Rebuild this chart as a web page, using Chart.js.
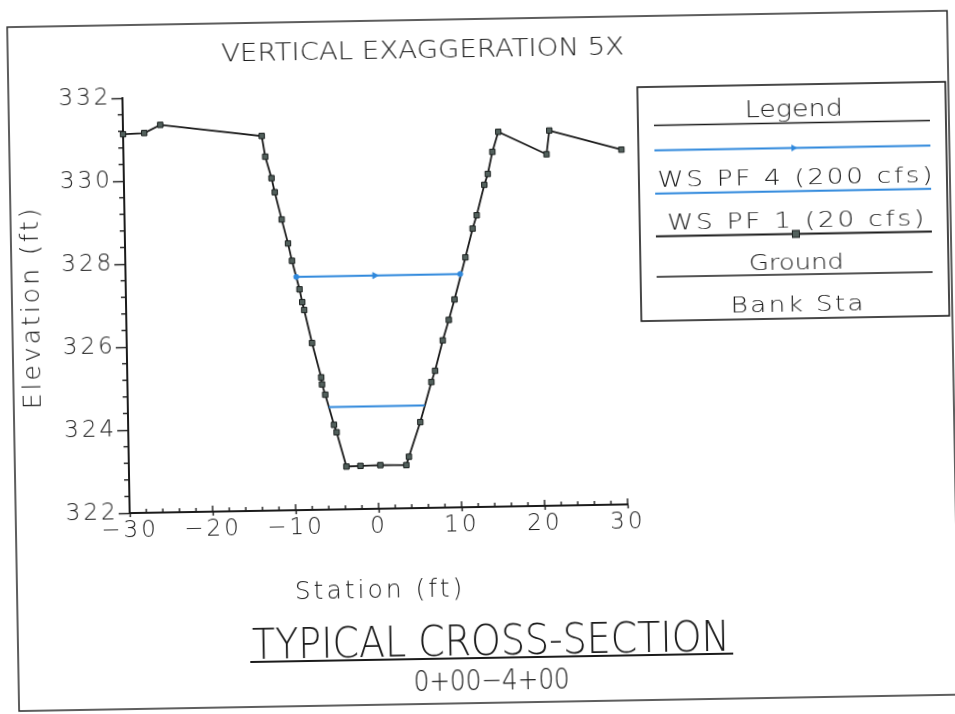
<!DOCTYPE html>
<html>
<head>
<meta charset="utf-8">
<script src="https://cdn.jsdelivr.net/npm/chart.js@4.4.1/dist/chart.umd.min.js"></script>
<style>
  html, body { margin: 0; padding: 0; background: #fff; overflow: hidden; }
  #sheet {
    position: absolute; left: 0; top: 0; width: 955px; height: 714px;
    transform: rotate(-1deg); transform-origin: 477.5px 357px;
  }
  canvas { display: block; }
</style>
</head>
<body>
<div id="sheet"><canvas id="xs" width="955" height="714"></canvas></div>
<script>
// Surveyed ground points across the channel (station ft, elevation ft)
const groundStation = [-30, -27.45, -25.5, -13.3, -12.92, -12.21, -11.85, -11.07, -10.36, -9.92,
  -9.07, -8.77, -8.55, -7.67, -6.64, -6.56, -6.19, -5.2, -4.9, -3.79,
  -2.1, 0.3, 3.43, 3.76, 5.2, 6.62, 7.09, 8.08, 8.85, 9.58,
  10.98, 11.91, 12.43, 13.41, 13.85, 14.45, 15.2, 20.97, 21.35, 30];
const groundElev = [331.13, 331.15, 331.34, 331.03, 330.53, 330.01, 329.67, 329.01, 328.43, 328.01,
  327.32, 327.01, 326.82, 326.02, 325.19, 325.02, 324.77, 324.04, 323.86, 323.03,
  323.04, 323.05, 323.04, 323.24, 324.07, 325.03, 325.30, 326.03, 326.52, 327.01,
  328.02, 328.71, 329.03, 329.76, 330.02, 330.55, 331.03, 330.47, 331.04, 330.55];

// Water surface, profile 4 (200 cfs)
const ws4Station = [-9.43, 0, 10.32];
const ws4Elev = [327.62, 327.62, 327.62];

// Water surface, profile 1 (20 cfs)
const ws1Station = [-5.8, 5.77];
const ws1Elev = [324.47, 324.47];

// Axis ticks
const stationTicks = [-30, -20, -10, 0, 10, 20, 30];
const elevTicks = [322, 324, 326, 328, 330, 332];

const seriesNames = ['WS PF 4 (200 cfs)', 'WS PF 1 (20 cfs)', 'Ground', 'Bank Sta'];
const headline = 'VERTICAL EXAGGERATION 5X';
const sheetTitle = 'TYPICAL CROSS-SECTION';
const sheetRange = '0+00\u22124+00';

const FONT = "'DejaVu Sans', 'Liberation Sans', sans-serif";
const INK = '#1b1b1b';
const BLUE = '#2f88dc';
const MARK = '#52605c';

const toXY = (xs, ys) => xs.map((x, i) => ({ x, y: ys[i] }));
const fmtStation = v => (v < 0 ? '\u2212' + Math.abs(v) : String(v));

// Write a line of text centred on cx spanning a given width: glyphs are widened
// a little (wide drafting lettering) and the rest is taken up by letter spacing.
function spanText(c, str, cx, baseY, size, width) {
  c.save();
  c.font = `200 ${size}px ${FONT}`;
  c.letterSpacing = '0px';
  c.fillStyle = INK;
  c.textBaseline = 'alphabetic';
  c.textAlign = 'left';
  const w0 = c.measureText(str).width;
  const n = [...str].length;
  const s = Math.min(1.2, width / w0);
  const sp = n > 1 ? Math.max(0, (width / s - w0) / (n - 1)) : 0;
  c.letterSpacing = sp + 'px';
  c.translate(cx - width / 2, baseY);
  c.scale(s, 1);
  c.fillText(str, 0, 0);
  c.restore();
}

function line(c, x1, y1, x2, y2, color, w) {
  c.save();
  c.strokeStyle = color; c.lineWidth = w;
  c.beginPath(); c.moveTo(x1, y1); c.lineTo(x2, y2); c.stroke();
  c.restore();
}

const sheetPlugin = {
  id: 'sheet',
  beforeDraw(chart) {
    const c = chart.ctx;
    c.save();
    c.fillStyle = '#fff';
    c.fillRect(0, 0, chart.width, chart.height);
    c.strokeStyle = '#2a2a2a';
    c.lineWidth = 1.5;
    c.strokeRect(13, 19, 940, 684);
    c.restore();
    c.letterSpacing = '3px';
  },
  afterDraw(chart) {
    const c = chart.ctx;
    c.letterSpacing = '0px';
    const a = chart.chartArea;
    const xs = chart.scales.x, ys = chart.scales.y;

    // minor ticks: every 2 ft of station (inside), every 0.4 ft of elevation (outside)
    for (let v = -30; v <= 30; v += 2) {
      const px = xs.getPixelForValue(v);
      const len = (v % 10 === 0) ? 6 : 4;
      line(c, px, a.bottom, px, a.bottom - len, INK, 1.4);
    }
    for (let k = 0; k <= 25; k++) {
      if (k % 5 === 0) continue;
      const py = ys.getPixelForValue(322 + k * 0.4);
      line(c, a.left, py, a.left - 5, py, INK, 1.4);
    }

    // headings
    spanText(c, headline, 428, 57, 24, 403);
    spanText(c, sheetTitle, 486, 655, 43, 478);
    line(c, 245, 658, 728, 658, INK, 2);
    spanText(c, sheetRange, 486, 690, 29, 156);

    // legend panel
    const L = 642, T = 90, W = 308, H = 234;
    c.save();
    c.strokeStyle = INK; c.lineWidth = 1.6;
    c.strokeRect(L, T, W, H);
    c.restore();
    const x1 = L + 16, x2 = L + W - 16, mid = L + W / 2 + 2;
    spanText(c, 'Legend', mid, T + 32, 23, 98);
    line(c, x1, T + 38.5, x2, T + 38.5, INK, 1.6);
    // WS PF 4 sample
    line(c, x1, T + 63.5, x2, T + 63.5, BLUE, 2);
    c.save();
    c.fillStyle = BLUE;
    c.beginPath(); c.moveTo(mid - 3, T + 60); c.lineTo(mid + 3, T + 63.5); c.lineTo(mid - 3, T + 67); c.closePath(); c.fill();
    c.restore();
    spanText(c, seriesNames[0], mid, T + 100, 22, 275);
    // WS PF 1 sample
    line(c, x1, T + 106.8, x2, T + 106.8, BLUE, 2);
    spanText(c, seriesNames[1], mid, T + 143.4, 22, 257);
    // Ground sample
    line(c, x1, T + 149.5, x2, T + 149.5, INK, 1.8);
    c.save();
    c.fillStyle = MARK; c.strokeStyle = '#1a1f1e'; c.lineWidth = 1;
    c.fillRect(mid - 3.5, T + 146, 7, 7); c.strokeRect(mid - 3.5, T + 146, 7, 7);
    c.restore();
    spanText(c, seriesNames[2], mid, T + 185, 22, 95);
    // Bank Sta sample
    line(c, x1, T + 190, x2, T + 190, INK, 1.6);
    spanText(c, seriesNames[3], mid, T + 227, 22, 133);
  }
};

const tickFont = { family: FONT, size: 23, weight: '200' };
const titleFont = { family: FONT, size: 25, weight: '200' };

new Chart(document.getElementById('xs').getContext('2d'), {
  type: 'scatter',
  data: {
    datasets: [
      {
        label: seriesNames[0], data: toXY(ws4Station, ws4Elev), showLine: true,
        borderColor: BLUE, borderWidth: 2, clip: false,
        pointStyle: ['circle', 'triangle', 'circle'], pointRadius: [2.5, 3.5, 2.5],
        pointBackgroundColor: BLUE, pointBorderColor: BLUE, pointBorderWidth: 1, rotation: [0, 90, 0]
      },
      {
        label: seriesNames[1], data: toXY(ws1Station, ws1Elev), showLine: true,
        borderColor: BLUE, borderWidth: 2, pointRadius: 0, clip: false
      },
      {
        label: seriesNames[2], data: toXY(groundStation, groundElev), showLine: true,
        borderColor: INK, borderWidth: 1.8, clip: false,
        pointStyle: 'rect', pointRadius: 3.8,
        pointBackgroundColor: MARK, pointBorderColor: '#1a1f1e', pointBorderWidth: 1
      }
    ]
  },
  options: {
    responsive: false, animation: false, devicePixelRatio: 1,
    layout: { padding: { left: 14, top: 92, right: 330, bottom: 106 } },
    plugins: { legend: { display: false }, tooltip: { enabled: false }, title: { display: false } },
    scales: {
      x: {
        type: 'linear', position: 'bottom', min: -30, max: 30,
        afterBuildTicks: s => { s.ticks = stationTicks.map(v => ({ value: v })); },
        afterFit: s => { s.height = 101; },
        grid: { drawOnChartArea: false, drawTicks: true, tickLength: 4, tickColor: INK, tickWidth: 1.4 },
        border: { display: true, color: INK, width: 2 },
        ticks: { padding: 0, color: INK, font: tickFont, maxRotation: 0, autoSkip: false, callback: v => fmtStation(v) },
        title: { display: true, text: 'Station (ft)', color: INK, font: titleFont, padding: { top: 4, bottom: 4 } }
      },
      y: {
        type: 'linear', position: 'left', min: 322, max: 332,
        afterBuildTicks: s => { s.ticks = elevTicks.map(v => ({ value: v })); },
        afterFit: s => { s.width = 113; },
        grid: { drawOnChartArea: false, drawTicks: true, tickLength: 11, tickColor: INK, tickWidth: 1.4 },
        border: { display: true, color: INK, width: 2 },
        ticks: { padding: 0, color: INK, font: tickFont, autoSkip: false, callback: v => String(v) },
        title: { display: true, text: 'Elevation (ft)', color: INK, font: titleFont, padding: { top: 4, bottom: 4 } }
      }
    }
  },
  plugins: [sheetPlugin]
});
</script>
</body>
</html>
